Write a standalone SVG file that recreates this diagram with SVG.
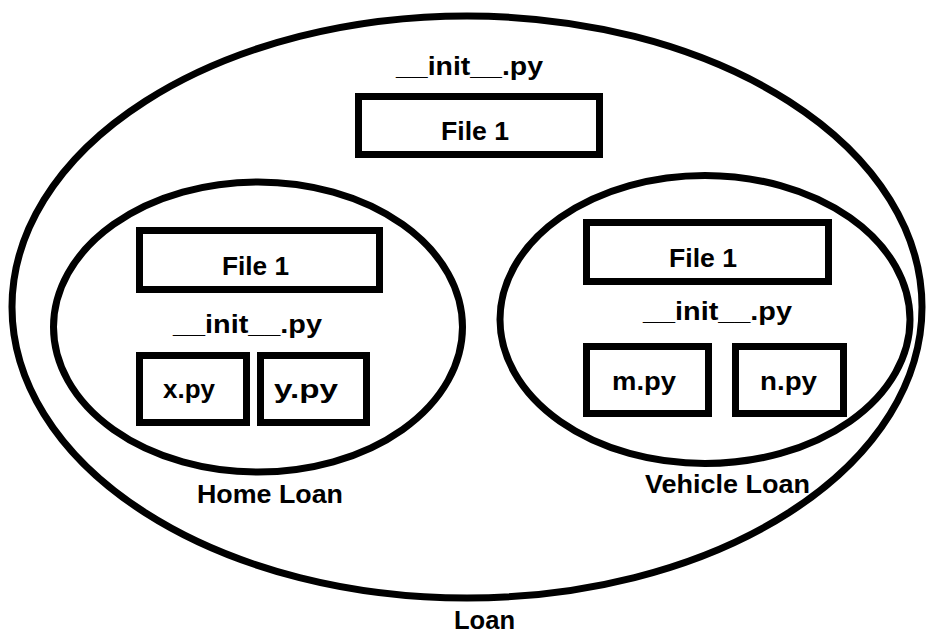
<svg xmlns="http://www.w3.org/2000/svg" width="930" height="636" viewBox="0 0 930 636">
  <style>
    .shape { fill: none; stroke: #000; stroke-width: 7; }
    .box { fill: #fff; stroke: #000; stroke-width: 7; }
    .lbl { font-family: "Liberation Sans", Arial, sans-serif; font-weight: bold; font-size: 26px; fill: #000; text-anchor: middle; }
  </style>
  <rect width="930" height="636" fill="#fff"/>
  <g id="loan">
    <ellipse class="shape" cx="467" cy="307" rx="455" ry="291"/>
    <text class="lbl" x="484.5" y="629" textLength="61" lengthAdjust="spacingAndGlyphs">Loan</text>
    <text class="lbl" x="469.5" y="75" textLength="147" lengthAdjust="spacingAndGlyphs">__init__.py</text>
  </g>
  <g id="loan-file1">
    <rect class="box" x="358.5" y="96.5" width="241" height="58"/>
    <text class="lbl" x="475" y="140" textLength="68" lengthAdjust="spacingAndGlyphs">File 1</text>
  </g>
  <g id="home-loan">
    <ellipse class="shape" cx="258" cy="327" rx="204.5" ry="145"/>
    <text class="lbl" x="270" y="503" textLength="146" lengthAdjust="spacingAndGlyphs">Home Loan</text>
    <text class="lbl" x="247.5" y="333" textLength="149" lengthAdjust="spacingAndGlyphs">__init__.py</text>
  </g>
  <g id="home-file1">
    <rect class="box" x="139.5" y="230.5" width="240" height="59"/>
    <text class="lbl" x="255.5" y="275" textLength="67" lengthAdjust="spacingAndGlyphs">File 1</text>
  </g>
  <g id="x-py">
    <rect class="box" x="139.5" y="355.5" width="107" height="67"/>
    <text class="lbl" x="189" y="398" textLength="52" lengthAdjust="spacingAndGlyphs">x.py</text>
  </g>
  <g id="y-py">
    <rect class="box" x="260.5" y="355.5" width="106" height="67"/>
    <text class="lbl" x="306" y="398" textLength="64" lengthAdjust="spacingAndGlyphs">y.py</text>
  </g>
  <g id="vehicle-loan">
    <ellipse class="shape" cx="705" cy="319.5" rx="205" ry="144"/>
    <text class="lbl" x="727.5" y="493" textLength="165" lengthAdjust="spacingAndGlyphs">Vehicle Loan</text>
    <text class="lbl" x="717.5" y="320" textLength="149" lengthAdjust="spacingAndGlyphs">__init__.py</text>
  </g>
  <g id="vehicle-file1">
    <rect class="box" x="586.5" y="222.5" width="242" height="59"/>
    <text class="lbl" x="703" y="267" textLength="68" lengthAdjust="spacingAndGlyphs">File 1</text>
  </g>
  <g id="m-py">
    <rect class="box" x="586.5" y="346.5" width="122" height="67"/>
    <text class="lbl" x="644" y="390" textLength="64" lengthAdjust="spacingAndGlyphs">m.py</text>
  </g>
  <g id="n-py">
    <rect class="box" x="735.5" y="346.5" width="108" height="67"/>
    <text class="lbl" x="788.5" y="390" textLength="57" lengthAdjust="spacingAndGlyphs">n.py</text>
  </g>
  <g id="connectors"/>
</svg>
